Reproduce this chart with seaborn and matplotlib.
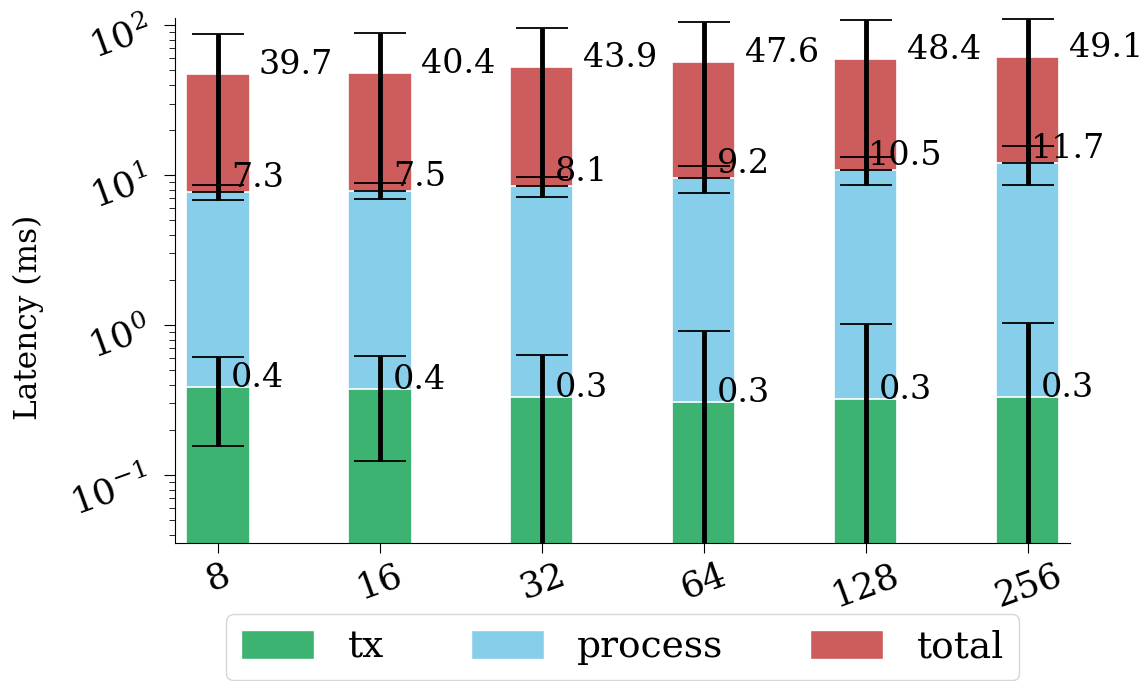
import numpy as np
import pandas as pd
import matplotlib
matplotlib.use("Agg")
import matplotlib.pyplot as plt
import seaborn as sns
from matplotlib.patches import Patch

# ---- data ----
categories = ["8", "16", "32", "64", "128", "256"]
tx = [0.386, 0.374, 0.330, 0.308, 0.323, 0.330]
process = [7.3, 7.5, 8.1, 9.2, 10.5, 11.7]
total = [39.7, 40.4, 43.9, 47.6, 48.4, 49.1]
tx_err = [0.23, 0.25, 0.30, 0.60, 0.69, 0.70]
process_err = [0.87, 0.93, 1.33, 1.90, 2.30, 3.50]
total_err = [39.7, 40.4, 43.9, 47.6, 48.4, 49.1]
series_names = ["tx", "process", "total"]
series_colors = ["mediumseagreen", "skyblue", "indianred"]

sns.set_style("ticks")
plt.rcParams["font.family"] = ["DejaVu Serif"]
plt.rcParams["mathtext.fontset"] = "dejavuserif"
for key in ["text.color", "axes.labelcolor", "xtick.color", "ytick.color", "axes.edgecolor"]:
    plt.rcParams[key] = "black"

tx_a = np.array(tx)
proc_cum = tx_a + np.array(process)
tot_cum = proc_cum + np.array(total)

df = pd.DataFrame({
    "size": categories,
    "tx": tx_a,
    "process": proc_cum,
    "total": tot_cum,
})

fig = plt.figure(figsize=(11.48, 6.81), dpi=100)
ax = fig.add_axes([175 / 1148, 138 / 681, 895 / 1148, 525 / 681])

for name, color in zip(["total", "process", "tx"], ["indianred", "skyblue", "mediumseagreen"]):
    sns.barplot(data=df, x="size", y=name, color=color, width=0.39,
                edgecolor="white", linewidth=1.2, ax=ax, zorder=2, saturation=1)

xpos = np.arange(len(categories))
for cum, err in [(tx_a, tx_err), (proc_cum, process_err), (tot_cum, total_err)]:
    ax.errorbar(xpos, cum, yerr=err, fmt="none", ecolor="black",
                elinewidth=3.5, capsize=18.5, capthick=1.3, zorder=4)

ax.set_yscale("log")
ax.set_ylim(0.0352, 111.5)
ax.set_xlim(-0.265, 5.26)

fs = 24
for i in range(len(categories)):
    ax.text(xpos[i] + 0.245, tx_a[i], f"{tx[i]:.1f}", ha="center", va="baseline",
            fontsize=fs, zorder=5)
    ax.text(xpos[i] + 0.245, proc_cum[i] * 1.08, f"{process[i]:.1f}", ha="center",
            va="baseline", fontsize=fs, zorder=5)
    ax.text(xpos[i] + 0.48, tot_cum[i], f"{total[i]:.1f}", ha="center",
            va="baseline", fontsize=fs, zorder=5)

ax.set_xlabel("")
ax.set_ylabel("Latency (ms)", fontsize=22.5)
ax.yaxis.set_label_coords(-0.146, 0.43)
ax.tick_params(axis="x", labelsize=26, rotation=20, length=7)
ax.tick_params(axis="y", which="major", labelsize=26, labelrotation=20, length=8, pad=6)
ax.tick_params(axis="y", which="minor", length=4.5)
for lab in ax.get_xticklabels():
    lab.set_ha("center")
sns.despine(ax=ax)

handles = [Patch(facecolor=c, edgecolor="white", label=n)
           for n, c in zip(series_names, series_colors)]
ax.legend(handles=handles, loc="upper center", bbox_to_anchor=(0.5, -0.10),
          ncol=3, fontsize=27, frameon=True, handlelength=1.95, handleheight=0.8,
          handletextpad=0.9, columnspacing=2.3)

fig.savefig("out.png", dpi=100)
